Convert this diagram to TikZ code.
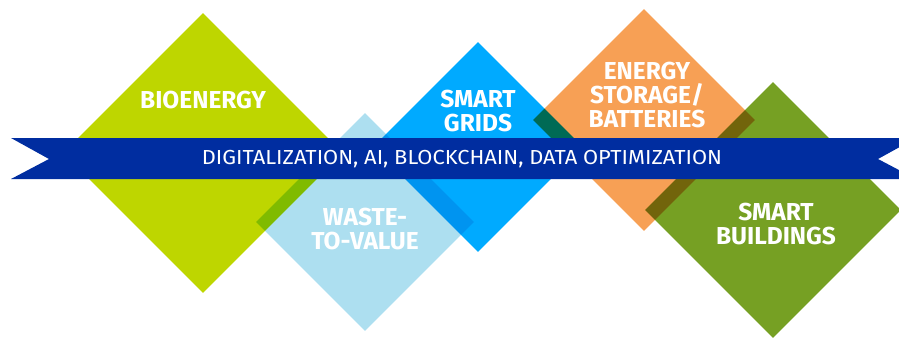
\documentclass[tikz,border=0pt]{standalone}
\usepackage{fontspec}
\usepackage{xcolor}
\setmainfont{Fira Sans}
\newfontfamily\bandfont{Fira Sans}[FakeStretch=1.076]
\usetikzlibrary{shapes.geometric}

\definecolor{bioGreen}{RGB}{190,214,0}
\definecolor{wasteBlue}{RGB}{173,223,240}
\definecolor{gridBlue}{RGB}{0,170,255}
\definecolor{storageOrange}{RGB}{247,160,85}
\definecolor{buildingGreen}{RGB}{118,160,35}
\definecolor{bandBlue}{RGB}{0,45,160}

\begin{document}
\begin{tikzpicture} [
        x = 1pt, y = -1pt,
        tile/.style = { diamond, draw = none, inner sep = 0, aspect = 1,
                        minimum width = #1, minimum height = #1 },
        caption/.style = { text = white, inner sep = 0, align = center,
                           font = \bfseries\fontsize{24.5}{24}\selectfont },
        bandtext/.style = { text = white, inner sep = 0,
                            font = \bandfont\fontsize{20.3}{22}\selectfont }
        ]

        \useasboundingbox (0,0) rectangle (899,338);
        \clip (0,0) rectangle (899,338);

        % the five tiles, overlaps darken like ink
        \begin{scope} [blend mode = multiply]
        \node [tile = 280, fill = bioGreen] (bioenergy) at (203,153) {};
        \node [tile = 218, fill = wasteBlue] (waste) at (365,222) {};
        \node [tile = 210, fill = gridBlue] (grids) at (478,147) {};
        \node [tile = 222, fill = storageOrange] (storage) at (644,120) {};
        \node [tile = 256, fill = buildingGreen] (buildings) at (773,210) {};
        \end{scope}

        % ribbon
        \fill [bandBlue] (11,138) -- (916,138) -- (878,159) -- (916,179)
                -- (11,179) -- (49,159) -- cycle;
        \node [bandtext] (band) at (462,159)
                {DIGITALIZATION, AI, BLOCKCHAIN, DATA OPTIMIZATION};

        \node [caption] (bioenergy-text) at (203,100.5) {BIOENERGY};
        \node [caption] (waste-text) at (365,229.5) {WASTE-\\TO-VALUE};
        \node [caption] (grids-text) at (478,111) {SMART\\GRIDS};
        \node [caption] (storage-text) at (647,95.5) {ENERGY\\STORAGE/\\BATTERIES};
        \node [caption] (buildings-text) at (776,224.5) {SMART\\BUILDINGS};
    \end{tikzpicture}
\end{document}
